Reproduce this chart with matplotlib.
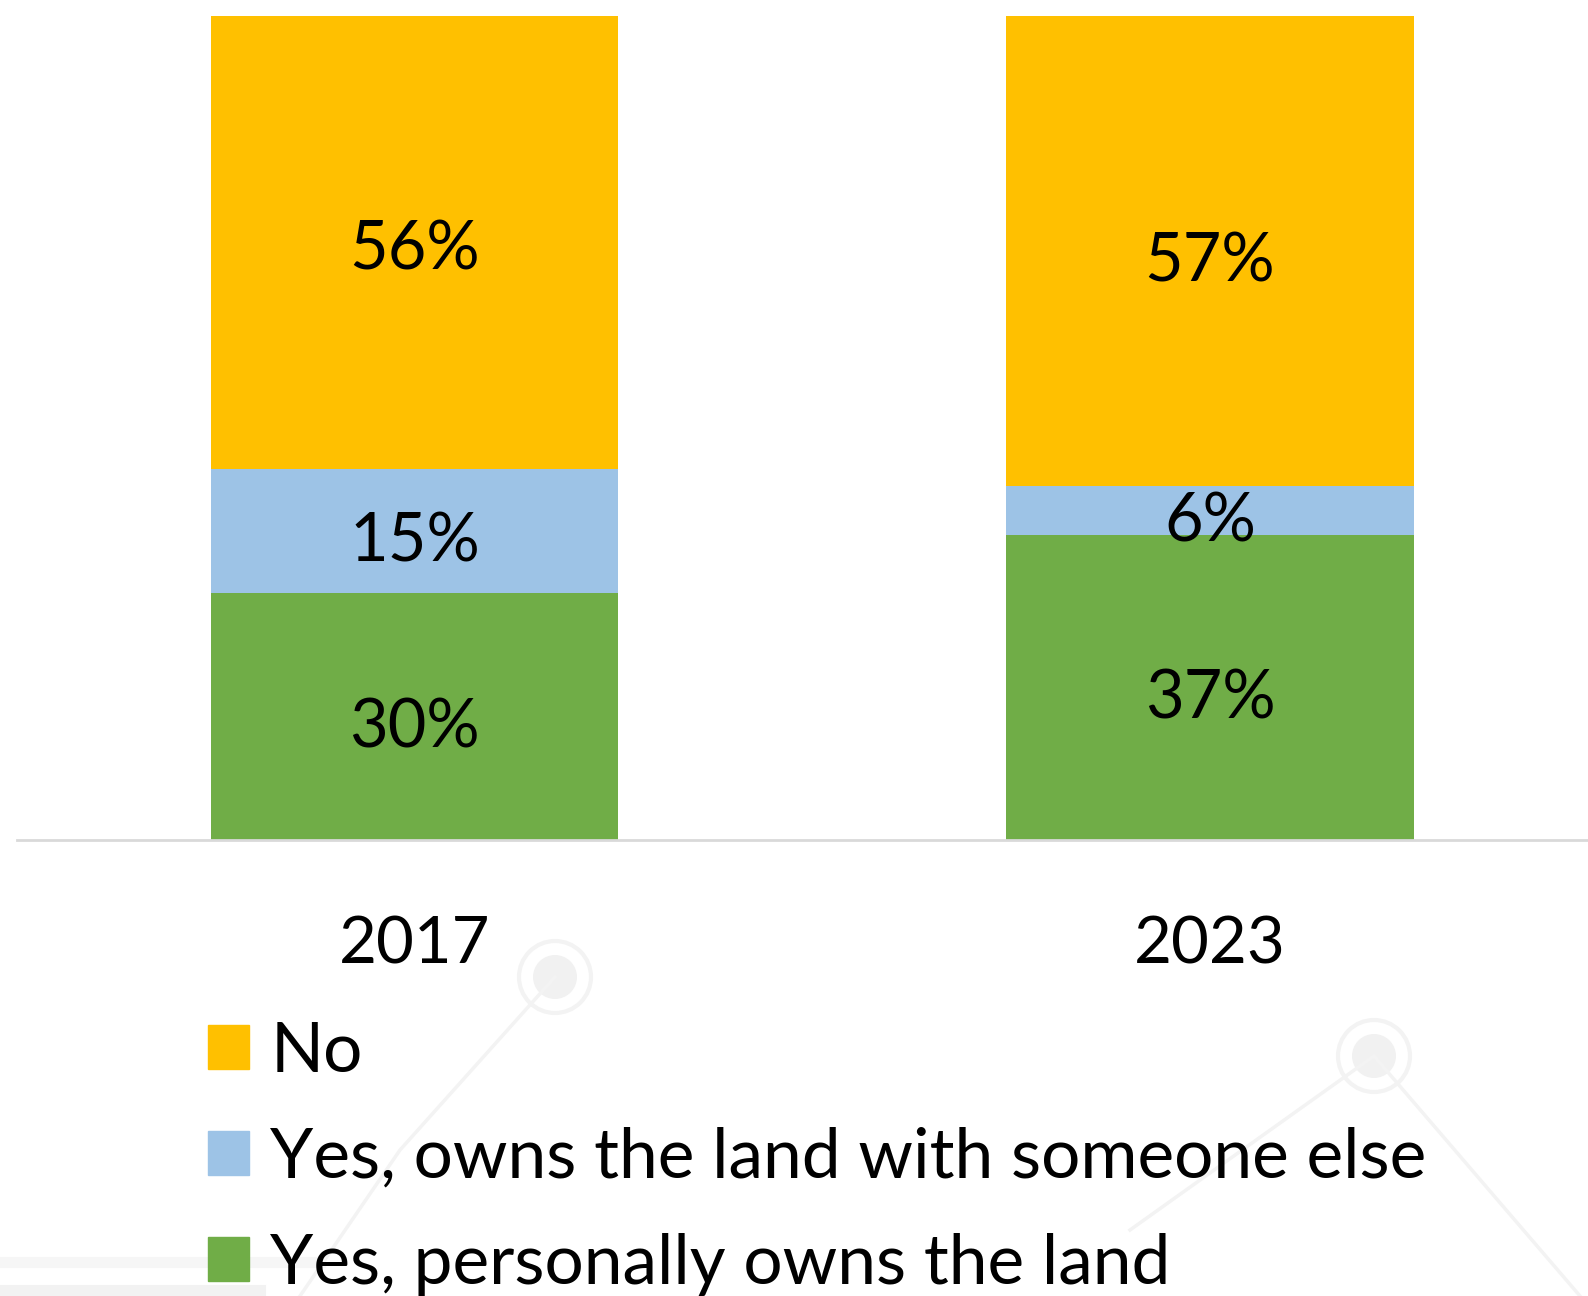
import matplotlib
matplotlib.use('Agg')
import matplotlib.pyplot as plt
from matplotlib.patches import Patch, Circle

plt.rcParams['font.family'] = ['Lato', 'DejaVu Sans']

years = ['2017', '2023']
personal = [30, 37]
shared = [15, 6]
no_land = [56, 57]

series = [
    ('Yes, personally owns the land', personal, '#70AD47'),
    ('Yes, owns the land with someone else', shared, '#9DC3E6'),
    ('No', no_land, '#FFC000'),
]

W, H = 1588, 1296
fig = plt.figure(figsize=(W / 100, H / 100), dpi=100)

# faint decorative watermark behind everything (pixel coordinates)
bg = fig.add_axes([0, 0, 1, 1], zorder=-5)
bg.set_xlim(0, W)
bg.set_ylim(H, 0)
bg.axis('off')
wm = '#f3f3f3'
bg.plot([555, 400, 300], [977, 1150, 1296], color=wm, lw=2.5)
bg.plot([1130, 1374, 1580], [1230, 1056, 1296], color=wm, lw=2.5)
for cx, cy in [(555, 977), (1374, 1056)]:
    bg.add_patch(Circle((cx, cy), 22, color='#f1f1f1', lw=0))
    bg.add_patch(Circle((cx, cy), 36, fill=False, ec=wm, lw=3))
bg.plot([0, 320], [1262, 1262], color='#f6f6f6', lw=8)
bg.plot([0, 260], [1290, 1290], color='#f2f2f2', lw=8)

ax = fig.add_axes([16.75 / W, (H - 840) / H, 1591 / W, 824 / H])
ax.patch.set_alpha(0)
x = range(len(years))
bottom = [0] * len(years)
for name, vals, color in series:
    bars = ax.bar(x, vals, width=0.512, bottom=bottom, color=color,
                  label=name, zorder=2)
    for rect, v, b in zip(bars, vals, bottom):
        ax.annotate(f'{v}%', (rect.get_x() + rect.get_width() / 2, b + v / 2),
                    xytext=(0, -12), textcoords='offset pixels',
                    ha='center', va='center', fontsize=48, color='black',
                    zorder=3)
    bottom = [b + v for b, v in zip(bottom, vals)]

ax.set_xlim(-0.5, 1.5)
ax.set_ylim(0, 100)
for side in ['top', 'right', 'left']:
    ax.spines[side].set_visible(False)
ax.spines['bottom'].set_color('#d9d9d9')
ax.spines['bottom'].set_linewidth(2)
ax.spines['bottom'].set_zorder(4)
ax.set_yticks([])
ax.set_xticks(list(x))
ax.set_xticklabels(years, fontsize=47)
ax.tick_params(axis='x', length=0, pad=54)

handles = [Patch(color=c, label=n) for n, _, c in reversed(series)]
fig.legend(handles=handles, loc='upper left',
           bbox_to_anchor=(180 / W, 1 - 993 / H), frameon=False,
           fontsize=50, handlelength=0.6, handleheight=0.6,
           handletextpad=0.3, labelspacing=0.62, borderaxespad=0)

fig.savefig('out.png', dpi=100)
